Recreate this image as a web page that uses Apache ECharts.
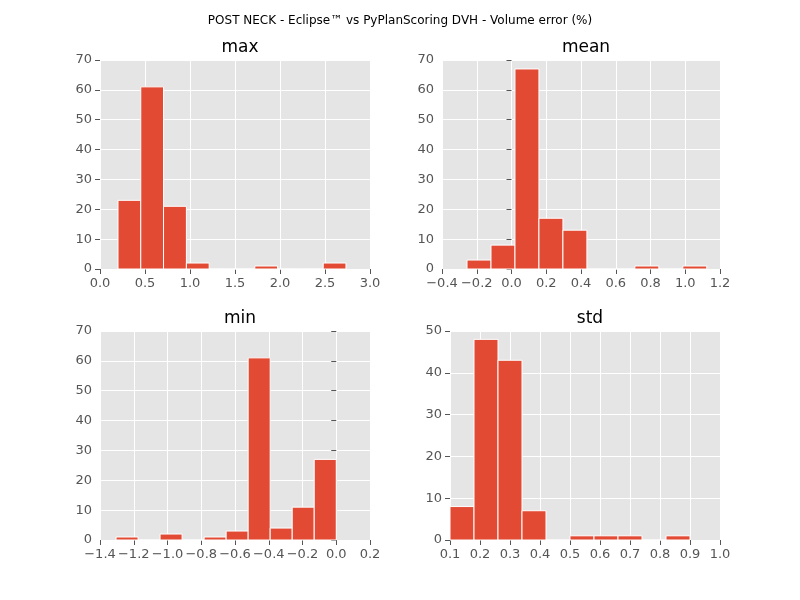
<!DOCTYPE html>
<html><head><meta charset="utf-8">
<script src="https://cdn.jsdelivr.net/npm/echarts@6/dist/echarts.min.js"></script>
<style>html,body{margin:0;padding:0;background:#fff}#c{width:800px;height:600px}</style>
</head><body><div id="c"></div>
<script>
const titles = ['max', 'mean', 'min', 'std'];
const maxEdges = [0.2, 0.453, 0.706, 0.96, 1.213, 1.466, 1.72, 1.973, 2.226, 2.48, 2.733];
const maxCounts = [23, 61, 21, 2, 0, 0, 1, 0, 0, 2];
const meanEdges = [-0.256, -0.118, 0.02, 0.158, 0.296, 0.434, 0.572, 0.71, 0.848, 0.986, 1.124];
const meanCounts = [3, 8, 67, 17, 13, 0, 0, 1, 0, 1];
const minEdges = [-1.305, -1.1745, -1.044, -0.9135, -0.783, -0.6525, -0.522, -0.3915, -0.261, -0.1305, 0.0];
const minCounts = [1, 0, 2, 0, 1, 3, 61, 4, 11, 27];
const stdEdges = [0.1, 0.18, 0.26, 0.34, 0.42, 0.5, 0.58, 0.66, 0.74, 0.82, 0.9];
const stdCounts = [8, 48, 43, 7, 0, 1, 1, 1, 0, 1];
const xRanges = [[0, 3, 0.5], [-0.4, 1.2, 0.2], [-1.4, 0.2, 0.2], [0.1, 1.0, 0.1]];
const yRanges = [[0, 70, 10], [0, 70, 10], [0, 70, 10], [0, 50, 10]];

const allEdges = [maxEdges, meanEdges, minEdges, stdEdges];
const allCounts = [maxCounts, meanCounts, minCounts, stdCounts];
const grids = [
  {left: 100, top: 60, width: 270, height: 209},
  {left: 442, top: 60, width: 278, height: 209},
  {left: 100, top: 331, width: 270, height: 209},
  {left: 450, top: 331, width: 270, height: 209}
];
const lbl = {color: '#555', fontSize: 13, fontFamily: 'DejaVu Sans'};
function fmt(v){ return (Math.abs(v) < 1e-9 ? 0 : v).toFixed(1).replace('-', '\u2212'); }
const opt = {
  animation: false,
  title: [{text: 'POST NECK - Eclipse\u2122 vs PyPlanScoring DVH - Volume error (%)', left: 'center', top: 10,
    textStyle: {fontSize: 12, fontWeight: 'normal', color: '#000', fontFamily: 'DejaVu Sans'}}]
    .concat(grids.map((g, i) => ({text: titles[i], left: g.left + g.width / 2, top: g.top - 26, textAlign: 'center',
      textStyle: {fontSize: 17, fontWeight: 'normal', color: '#000', fontFamily: 'DejaVu Sans'}}))),
  grid: grids.map(g => Object.assign({backgroundColor: '#E5E5E5', show: true, borderWidth: 0}, g)),
  xAxis: grids.map((g, i) => ({type: 'value', gridIndex: i, min: xRanges[i][0], max: xRanges[i][1], interval: xRanges[i][2],
    axisLine: {show: false}, axisTick: {show: true, length: 5, lineStyle: {color: '#555'}, inside: false},
    splitLine: {lineStyle: {color: '#fff'}},
    axisLabel: Object.assign({formatter: fmt, showMinLabel: true, showMaxLabel: true, margin: 8}, lbl)})),
  yAxis: grids.map((g, i) => ({type: 'value', gridIndex: i, min: yRanges[i][0], max: yRanges[i][1], interval: yRanges[i][2],
    axisLine: {show: false}, axisTick: {show: true, length: 5, lineStyle: {color: '#555'}},
    splitLine: {lineStyle: {color: '#fff'}}, axisLabel: Object.assign({margin: 8}, lbl)})),
  series: allCounts.map((counts, i) => ({
    type: 'custom', xAxisIndex: i, yAxisIndex: i,
    data: counts.map((c, j) => [allEdges[i][j], allEdges[i][j + 1], c]),
    renderItem: function (params, api) {
      const p0 = api.coord([api.value(0), 0]);
      const p1 = api.coord([api.value(1), api.value(2)]);
      return {type: 'rect', shape: {x: p0[0], y: p1[1], width: p1[0] - p0[0], height: p0[1] - p1[1]},
        style: {fill: '#E24A33', stroke: '#fff', lineWidth: 1}};
    }
  }))
};
echarts.init(document.getElementById('c')).setOption(opt);
</script></body></html>
